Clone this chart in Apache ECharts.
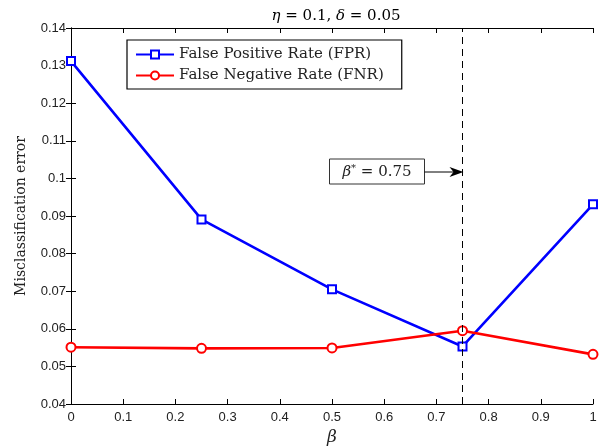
<!DOCTYPE html>
<html><head><meta charset="utf-8">
<script src="https://cdn.jsdelivr.net/npm/echarts@6/dist/echarts.min.js"></script>
<style>html,body{margin:0;padding:0;background:#fff}#c{width:603px;height:447px}</style>
</head><body><div id="c"></div>
<script>
const betas = [0, 0.25, 0.5, 0.75, 1];
const fpr = [0.1312, 0.0891, 0.0705, 0.0553, 0.0931];
const fnr = [0.0551, 0.0548, 0.0549, 0.0595, 0.0532];
const betaStar = 0.75;
const arrowY = 0.1017;
const xTicks = [0,0.1,0.2,0.3,0.4,0.5,0.6,0.7,0.8,0.9,1];
const yTicks = [0.04,0.05,0.06,0.07,0.08,0.09,0.1,0.11,0.12,0.13,0.14];

const serif = '"DejaVu Serif",serif';
const sans = '"Liberation Sans",Arial,sans-serif';
const chart = echarts.init(document.getElementById('c'));
const axisLine = {show:true, lineStyle:{color:'#000', width:1}};
const tick = {show:true, inside:true, length:5, lineStyle:{color:'#000'}};
const lbl = {color:'#222', fontFamily:sans, fontSize:13};
chart.setOption({
  animation:false,
  backgroundColor:'#fff',
  title:{text:'{i|η} = 0.1, {i|δ} = 0.05', left:331, textAlign:'center', top:4,
    textStyle:{fontFamily:serif, fontSize:15, fontWeight:'normal', color:'#000',
      rich:{i:{fontFamily:serif, fontStyle:'italic', fontSize:15}}}},
  grid:{left:71, right:10, top:28, bottom:43, outerBoundsMode:'none', containLabel:false},
  legend:{left:127, top:40, orient:'vertical', borderColor:'#000', borderWidth:1.2,
    padding:[7,18,6,8], itemGap:6, itemWidth:38, itemHeight:10,
    textStyle:{fontFamily:serif, fontSize:15, color:'#222'},
    data:['False Positive Rate (FPR)','False Negative Rate (FNR)']},
  xAxis:[
    {type:'value', min:0, max:1, interval:0.1, axisLine, axisTick:tick, splitLine:{show:false},
     axisLabel:Object.assign({margin:7, formatter:v=>String(+v.toFixed(1))}, lbl),
     name:'β', nameLocation:'middle', nameGap:22,
     nameTextStyle:{fontFamily:serif, fontStyle:'italic', fontSize:17, color:'#222'}},
    {type:'value', min:0, max:1, interval:0.1, position:'top', axisLine, axisTick:tick,
     axisLabel:{show:false}, splitLine:{show:false}}
  ],
  yAxis:[
    {type:'value', min:0.04, max:0.14, interval:0.01, axisLine, axisTick:tick, splitLine:{show:false},
     axisLabel:Object.assign({margin:5, formatter:v=>String(+v.toFixed(2))}, lbl),
     name:'Misclassification error', nameLocation:'middle', nameGap:43,
     nameTextStyle:{fontFamily:serif, fontSize:14, color:'#222'}},
    {type:'value', min:0.04, max:0.14, interval:0.01, position:'right', axisLine, axisTick:tick,
     axisLabel:{show:false}, splitLine:{show:false}}
  ],
  series:[
    {name:'False Positive Rate (FPR)', type:'line', data:betas.map((b,i)=>[b,fpr[i]]),
     symbol:'emptyRect', symbolSize:8, color:'#0000ff',
     lineStyle:{width:2.6, color:'#0000ff'}, itemStyle:{borderWidth:2, color:'#0000ff'},
     markLine:{silent:true, symbol:'none', label:{show:false},
       lineStyle:{type:[7,5], color:'#000', width:1}, data:[{xAxis:betaStar}]}},
    {name:'False Negative Rate (FNR)', type:'line', data:betas.map((b,i)=>[b,fnr[i]]),
     symbol:'emptyCircle', symbolSize:9, color:'#ff0000',
     lineStyle:{width:2.6, color:'#ff0000'}, itemStyle:{borderWidth:2, color:'#ff0000'}}
  ]
});
const tip = chart.convertToPixel({xAxisIndex:0, yAxisIndex:0}, [betaStar, arrowY]);
const boxR = tip[0] - 38, boxW = 95, boxH = 25;
chart.setOption({graphic:[
  {type:'rect', shape:{x:boxR-boxW, y:tip[1]-13, width:boxW, height:boxH},
   style:{fill:'#fff', stroke:'#333', lineWidth:1}},
  {type:'text', x:boxR-boxW/2, y:tip[1], style:{
    text:'{i|β}{s|*} = 0.75', align:'center', verticalAlign:'middle',
    font:'15px '+serif, fill:'#222',
    rich:{i:{fontFamily:serif, fontStyle:'italic', fontSize:15, fill:'#222'},
          s:{fontFamily:serif, fontSize:10, verticalAlign:'top', padding:[0,0,8,0]}}}},
  {type:'line', shape:{x1:boxR, y1:tip[1], x2:tip[0]-2, y2:tip[1]}, style:{stroke:'#000', lineWidth:1}},
  {type:'polygon', shape:{points:[[tip[0]+1,tip[1]],[tip[0]-13,tip[1]-5],[tip[0]-9,tip[1]],[tip[0]-13,tip[1]+5]]},
   style:{fill:'#000'}}
]});
</script></body></html>
